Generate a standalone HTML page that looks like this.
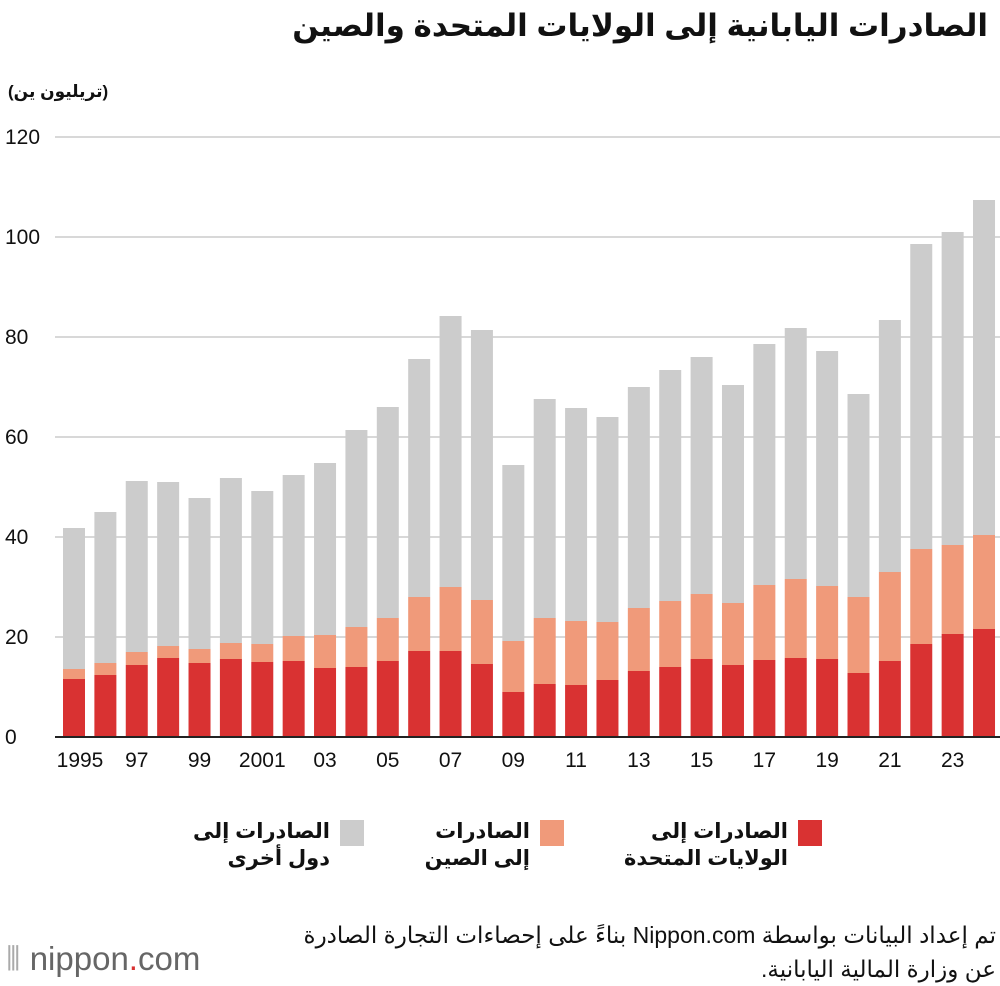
<!DOCTYPE html>
<html><head><meta charset="utf-8"><style>
body{margin:0;width:1000px;height:984px;background:#fff;font-family:"Liberation Sans","DejaVu Sans",sans-serif;overflow:hidden;position:relative}
.t{position:absolute}
</style></head><body>
<div class="t" dir="rtl" style="right:12px;top:8px;font-size:31px;font-weight:bold;color:#111">الصادرات اليابانية إلى الولايات المتحدة والصين</div>
<div class="t" dir="rtl" style="left:8px;top:82px;font-size:17px;font-weight:bold;color:#111">(تريليون ين)</div>
<svg id="c" class="t" style="left:0;top:0" width="1000" height="800"></svg>
<div class="t" style="left:620px;top:818px">
<div dir="rtl" style="position:absolute;left:0;width:168px;text-align:right;font-size:21px;font-weight:bold;line-height:27px;color:#111">الصادرات إلى<br>الولايات المتحدة</div>
<div style="position:absolute;left:178px;top:2px;width:24px;height:26px;background:#d93232"></div></div>
<div class="t" style="left:410px;top:818px">
<div dir="rtl" style="position:absolute;left:0;width:120px;text-align:right;font-size:21px;font-weight:bold;line-height:27px;color:#111">الصادرات<br>إلى الصين</div>
<div style="position:absolute;left:130px;top:2px;width:24px;height:26px;background:#f09a7a"></div></div>
<div class="t" style="left:190px;top:818px">
<div dir="rtl" style="position:absolute;left:0;width:140px;text-align:right;font-size:21px;font-weight:bold;line-height:27px;color:#111">الصادرات إلى<br>دول أخرى</div>
<div style="position:absolute;left:150px;top:2px;width:24px;height:26px;background:#cccccc"></div></div>
<div class="t" dir="rtl" style="right:4px;top:918px;font-size:23px;line-height:34px;color:#111;text-align:right;white-space:nowrap">تم إعداد البيانات بواسطة Nippon.com بناءً على إحصاءات التجارة الصادرة<br>عن وزارة المالية اليابانية.</div>
<div class="t" style="left:6px;top:940px;font-size:33px;color:#666"><span style="color:#aaa">⦀</span> nippon<span style="color:#d93232">.</span>com</div>
<script>
const years=[1995,1996,1997,1998,1999,2000,2001,2002,2003,2004,2005,2006,2007,2008,2009,2010,2011,2012,2013,2014,2015,2016,2017,2018,2019,2020,2021,2022,2023,2024];
const usExports=[11.6,12.4,14.4,15.8,14.8,15.6,15,15.2,13.8,14,15.2,17.2,17.2,14.6,9,10.6,10.4,11.4,13.2,14,15.6,14.4,15.4,15.8,15.6,12.8,15.2,18.6,20.6,21.6];
const usPlusChina=[13.6,14.8,17,18.2,17.6,18.8,18.6,20.2,20.4,22,23.8,28,30,27.4,19.2,23.8,23.2,23,25.8,27.2,28.6,26.8,30.4,31.6,30.2,28,33,37.6,38.4,40.4];
const totalExports=[41.8,45,51.2,51,47.8,51.8,49.2,52.4,54.8,61.4,66,75.6,84.2,81.4,54.4,67.6,65.8,64,70,73.4,76,70.4,78.6,81.8,77.2,68.6,83.4,98.6,101,107.4];
const yTicks=[0,20,40,60,80,100,120];
const xLabels=["1995","97","99","2001","03","05","07","09","11","13","15","17","19","21","23"];
const svg=document.getElementById('c'),NS='http://www.w3.org/2000/svg';
const y=v=>737-v*5, x=i=>74+i*31.38, bw=22;
function mk(t,a){const e=document.createElementNS(NS,t);for(const k in a)e.setAttribute(k,a[k]);svg.appendChild(e);return e;}
yTicks.forEach(v=>{
 const l=mk('line',{x1:55,x2:1000,y1:y(v),y2:y(v),stroke:v?'#ccc':'#222','stroke-width':v?1.5:2});
 
 
 const t=mk('text',{x:5,y:y(v)+7,'font-size':21,fill:'#111'});t.textContent=v;
 
 
});
years.forEach((yr,i)=>{
 const segs=[[0,usExports[i],'#d93232','bar-us'],[usExports[i],usPlusChina[i],'#f09a7a','bar-china'],[usPlusChina[i],totalExports[i],'#cccccc','bar-other']];
 segs.forEach(s=>{const r=mk('rect',{x:x(i)-bw/2,y:y(s[1]),width:bw,height:y(s[0])-y(s[1]),fill:s[2]});
 
 });
});
mk('line',{x1:55,x2:1000,y1:y(0),y2:y(0),stroke:'#222','stroke-width':2});
xLabels.forEach((lb,k)=>{const i=k*2;const t=mk('text',{x:x(i)+(k==0?6:0),y:767,'font-size':21,fill:'#111','text-anchor':'middle'});t.textContent=lb;
 
 });
</script>
</body></html>
